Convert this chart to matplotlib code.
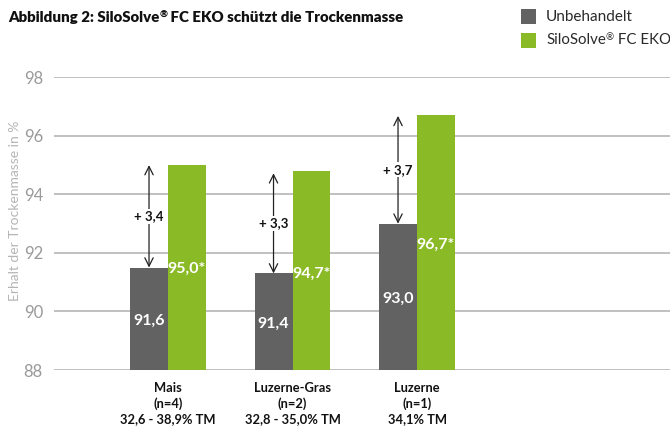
import matplotlib
matplotlib.use("Agg")
import matplotlib.pyplot as plt
from matplotlib.patches import Rectangle

plt.rcParams['font.family'] = ['Lato', 'DejaVu Sans']

categories = ["Mais\n(n=4)\n32,6 - 38,9% TM",
              "Luzerne-Gras\n(n=2)\n32,8 - 35,0% TM",
              "Luzerne\n(n=1)\n34,1% TM"]
untreated = [91.5, 91.3, 93.0]
treated = [95.0, 94.8, 96.7]
untreated_labels = ["91,6", "91,4", "93,0"]
treated_labels = ["95,0*", "94,7*", "96,7*"]
untreated_label_y = [89.67, 89.57, 90.42]
treated_label_y = [91.45, 91.3, 92.27]
diff_labels = ["+ 3,4", "+ 3,3", "+ 3,7"]
arrow_top = [95.0, 94.72, 96.68]
yticks = [88, 90, 92, 94, 96, 98]

grey = "#626262"
green = "#8aba25"

fig = plt.figure(figsize=(6.70, 4.29), dpi=100)
ax = fig.add_axes([54/670, 1-370/429, 616/670, (370-77.3)/429])

w = 0.305
x = list(range(len(categories)))
ax.bar([i - w/2 for i in x], [u - 88 for u in untreated], bottom=88, width=w, color=grey, zorder=3)
ax.bar([i + w/2 for i in x], [t - 88 for t in treated], bottom=88, width=w, color=green, zorder=3)

for i in x:
    ax.text(i - w/2, untreated_label_y[i], untreated_labels[i], ha='center', va='center',
            color='white', fontsize=11.5, fontweight='bold', zorder=4)
    ax.text(i + w/2, treated_label_y[i], treated_labels[i], ha='center', va='center',
            color='white', fontsize=11.5, fontweight='bold', zorder=4)
    ax.annotate("", xy=(i - w/2, arrow_top[i]), xytext=(i - w/2, untreated[i]),
                arrowprops=dict(arrowstyle='<->,head_length=0.6,head_width=0.3',
                                color='#222222', lw=0.9, shrinkA=0, shrinkB=0), zorder=5)
    mid = (arrow_top[i] + untreated[i]) / 2
    ax.text(i - w/2, mid, diff_labels[i], ha='center', va='center', fontsize=9.5,
            fontweight='bold', color='#111111', zorder=6,
            bbox=dict(facecolor='white', edgecolor='none', pad=1.0))

ax.set_ylim(88, 98)
ax.set_xlim(-0.9157, 4.032)
ax.set_yticks(yticks)
ax.set_yticklabels([str(t) for t in yticks])
ax.yaxis.grid(True, color='#b5b5b5', lw=1.2, zorder=0)
ax.set_axisbelow(True)
for s in ax.spines.values():
    s.set_visible(False)
ax.tick_params(axis='y', length=0, pad=8, labelsize=12, labelcolor='#9a9a9a')
ax.set_xticks(x)
ax.set_xticklabels(categories, fontsize=9.3, fontweight='bold', color='#111111', linespacing=1.3)
ax.tick_params(axis='x', length=0, pad=9)

fig.text(15/670, 1-211/429, "Erhalt der Trockenmasse in %", rotation=90, ha='center', va='center',
         fontsize=10, color='#b5b5b5')

renderer = fig.canvas.get_renderer()


def draw_pieces(x0, y0, pieces, **kw):
    """pieces: list of (text, fontsize, dy_px)"""
    xpix = x0
    for txt, fs, dy in pieces:
        t = fig.text(xpix / 670, 1 - (y0 - dy) / 429, txt, ha='left', va='baseline',
                     fontsize=fs, **kw)
        bb = t.get_window_extent(renderer=renderer)
        xpix += bb.width


draw_pieces(8, 22, [("Abbildung 2: SiloSolve", 10.8, 0), ("®", 7, 4),
                    (" FC EKO schützt die Trockenmasse", 10.8, 0)],
            fontweight='heavy', color='#111111')

fig.patches.append(Rectangle((520.7/670, 1-24/429), 15/670, 14.7/429, transform=fig.transFigure,
                             facecolor=grey, edgecolor='none'))
fig.patches.append(Rectangle((520.7/670, 1-47.7/429), 15/670, 15/429, transform=fig.transFigure,
                             facecolor=green, edgecolor='none'))
fig.text(546/670, 1-21/429, "Unbehandelt", ha='left', va='baseline', fontsize=11, color='#2a2a2a')
draw_pieces(546, 44.5, [("SiloSolve", 10.8, 0), ("®", 7, 4.5), (" FC EKO", 10.8, 0)], color='#2a2a2a')

fig.savefig("out.png", dpi=100)
